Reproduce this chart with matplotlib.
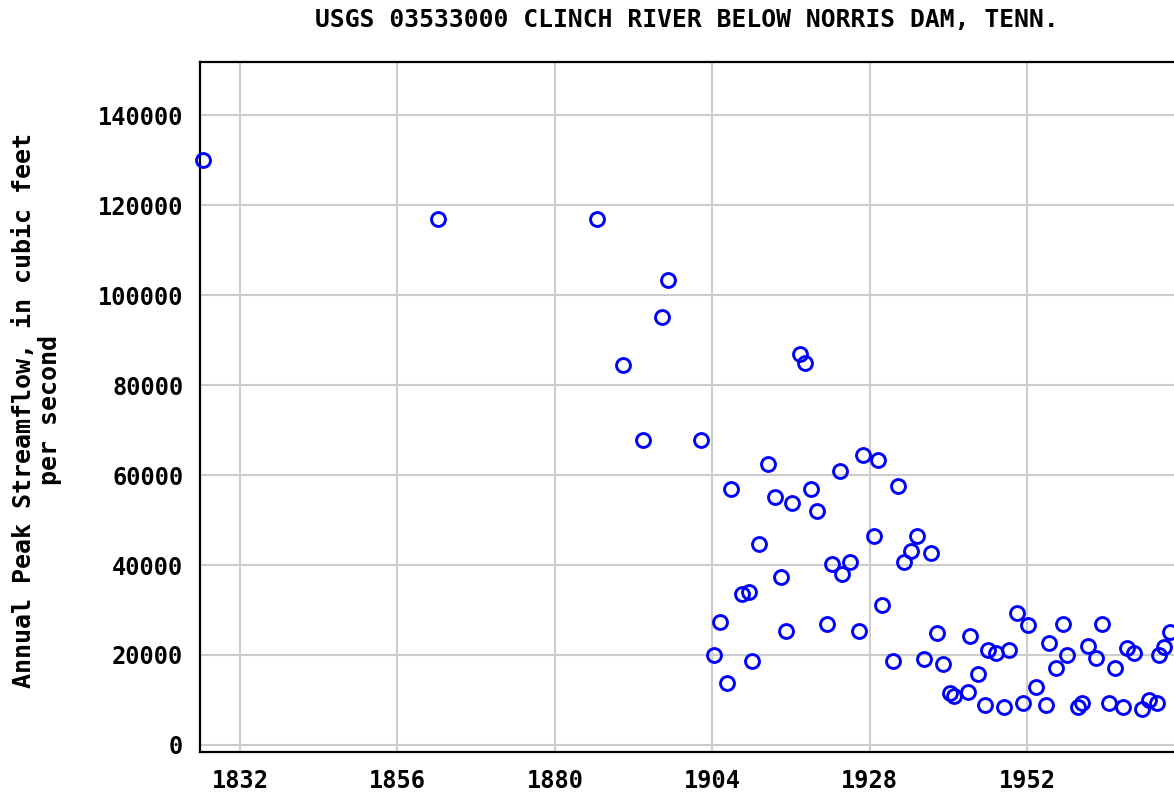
"""Annual peak streamflow, Clinch River below Norris Dam (USGS 03533000)."""
import matplotlib

matplotlib.use("Agg")
import matplotlib.pyplot as plt

# peak dates (decimal year, as plotted) and peak flow in cfs
years = [
    1826.4, 1862.2, 1886.4, 1890.4, 1893.4, 1896.3, 1897.3, 1902.2,
    1904.2, 1905.2, 1906.2, 1906.9, 1908.5, 1909.6, 1910.1, 1911.1,
    1912.5, 1913.5, 1914.4, 1915.2, 1916.1, 1917.4, 1918.1, 1919.1,
    1920.0, 1921.4, 1922.2, 1923.4, 1923.8, 1924.9, 1926.4, 1927.0,
    1928.6, 1929.3, 1929.9, 1931.5, 1932.3, 1933.2, 1934.2, 1935.2,
    1936.2, 1937.3, 1938.3, 1939.2, 1940.2, 1940.8, 1942.9, 1943.2,
    1944.5, 1945.5, 1946.0, 1947.2, 1948.5, 1949.2, 1950.5, 1951.4,
    1952.1, 1953.4, 1954.8, 1955.3, 1956.4, 1957.4, 1958.1, 1959.8,
    1960.4, 1961.3, 1962.4, 1963.4, 1964.4, 1965.3, 1966.6, 1967.2,
    1968.3, 1969.5, 1970.6, 1971.8, 1972.0, 1972.9, 1973.8,
]
peaks = [
    130000, 117000, 117000, 84500, 67800, 95100, 103300, 67700,
    20000, 27300, 13700, 57000, 33600, 33900, 18700, 44600,
    62400, 55200, 37400, 25300, 53800, 87000, 85000, 57000,
    51900, 26800, 40200, 61000, 38100, 40700, 25300, 64400,
    46400, 63300, 31200, 18700, 57600, 40700, 43200, 46400,
    19000, 42700, 24800, 18000, 11500, 10900, 11800, 24300,
    15700, 8900, 21100, 20400, 8500, 21100, 29300, 9400,
    26700, 12800, 8900, 22600, 17200, 26900, 20100, 8500,
    9400, 22000, 19400, 26900, 9400, 17200, 8500, 21600,
    20500, 7900, 10100, 9400, 20000, 21800, 25200,
]
x_ticks = [1832, 1856, 1880, 1904, 1928, 1952]
y_ticks = [0, 20000, 40000, 60000, 80000, 100000, 120000, 140000]

title = "USGS 03533000 CLINCH RIVER BELOW NORRIS DAM, TENN."
ylabel = "Annual Peak Streamflow, in cubic feet\nper second"

plt.rcParams["font.family"] = ["DejaVu Sans Mono"]
plt.rcParams["font.weight"] = "bold"

fig = plt.figure(figsize=(11.74, 7.97), dpi=100)
# axes runs past the right edge of the picture, like the cropped original
ax = fig.add_axes([200 / 1174, 45 / 797, 1011 / 1174, 690 / 797])

ax.plot(years, peaks, "o", ls="none", ms=10, mfc="none", mec="#0000ff", mew=2.1,
        zorder=3, clip_on=False)

ax.set_xlim(1825.9, 1980)
ax.set_ylim(-1560, 151800)
ax.set_xticks(x_ticks)
ax.set_yticks(y_ticks)
ax.tick_params(length=0, labelsize=17, pad=12)
for lab in ax.get_xticklabels() + ax.get_yticklabels():
    lab.set_fontweight("bold")
ax.grid(True, color="#cccccc", lw=1.5)
ax.set_axisbelow(True)
for s in ax.spines.values():
    s.set_linewidth(1.6)
    s.set_color("black")

fig.text(687 / 1174, 1 - 20 / 797, title, ha="center", va="center",
         fontsize=17.7, fontweight="bold")
fig.text(37 / 1174, 1 - 410 / 797, ylabel, ha="center", va="center",
         rotation=90, fontsize=18, fontweight="bold", linespacing=1.15)

fig.savefig("out.png", dpi=100)
